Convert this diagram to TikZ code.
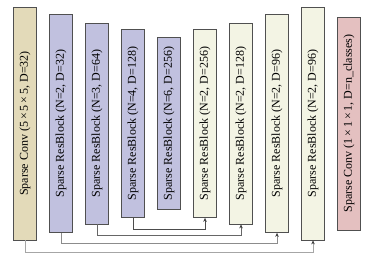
\documentclass[tikz,border=0pt]{standalone}
\usepackage{fontspec}
\setmainfont{Liberation Serif}
\usetikzlibrary{arrows.meta, positioning}
\definecolor{convtan}{HTML}{E3DAB9}
\definecolor{encblue}{HTML}{C1C1DF}
\definecolor{decwhite}{HTML}{F3F4E4}
\definecolor{outpink}{HTML}{E4C0C0}
\definecolor{edgegray}{HTML}{505050}

\begin{document}
\begin{tikzpicture}[x=1pt, y=-1pt, font=\fontsize{12}{14}\selectfont, >={Stealth[length=4pt, width=3.5pt, color=black!75]}, node distance=12.3pt,
    blk/.style={draw=edgegray, line width=0.7pt, minimum width=23pt, inner sep=0pt}]
    \useasboundingbox (0,0) rectangle (374,268);
    \node[blk, fill=convtan, minimum height=233pt] (c1) at (25,123.5) {\rotatebox{90}{Sparse Conv (5\,×\,5\,×\,5, D=32)}};
    \node[blk, fill=encblue, minimum height=218pt, right=of c1] (e1) {\rotatebox{90}{Sparse ResBlock (N=2, D=32)}};
    \node[blk, fill=encblue, minimum height=201pt, right=of e1] (e2) {\rotatebox{90}{Sparse ResBlock (N=3, D=64)}};
    \node[blk, fill=encblue, minimum height=188pt, right=of e2] (e3) {\rotatebox{90}{Sparse ResBlock (N=4, D=128)}};
    \node[blk, fill=encblue, minimum height=172pt, right=of e3] (e4) {\rotatebox{90}{Sparse ResBlock (N=6, D=256)}};
    \node[blk, fill=decwhite, minimum height=188pt, right=of e4] (d1) {\rotatebox{90}{Sparse ResBlock (N=2, D=256)}};
    \node[blk, fill=decwhite, minimum height=201pt, right=of d1] (d2) {\rotatebox{90}{Sparse ResBlock (N=2, D=128)}};
    \node[blk, fill=decwhite, minimum height=218pt, right=of d2] (d3) {\rotatebox{90}{Sparse ResBlock (N=2, D=96)}};
    \node[blk, fill=decwhite, minimum height=233pt, right=of d3] (d4) {\rotatebox{90}{Sparse ResBlock (N=2, D=96)}};
    \node[blk, fill=outpink, minimum height=213pt, right=of d4] (c2) {\rotatebox{90}{Sparse Conv (1\,×\,1\,×\,1, D=n\_classes)}};
    % skip connections
    \draw[->, draw=black!70, line width=0.7pt] (e3.south) -- ++(0,11) -| (d1.south);
    \draw[->, draw=black!60, line width=0.7pt] (e2.south) -- ++(0,11) -| (d2.south);
    \draw[->, draw=black!45, line width=0.8pt] (e1.south) -- ++(0,11) -| (d3.south);
    \draw[->, draw=black!35, line width=0.9pt] (c1.south) -- ++(0,12) -| (d4.south);
\end{tikzpicture}
\end{document}
